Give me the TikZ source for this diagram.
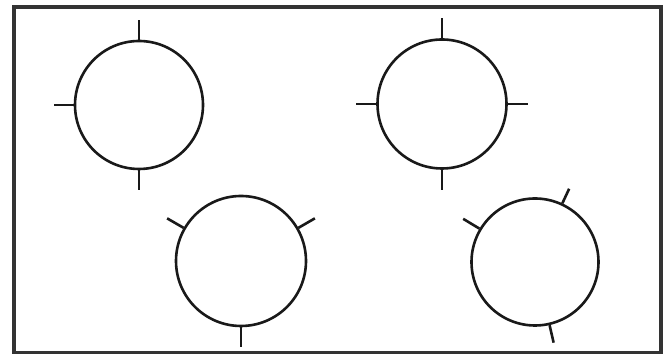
\documentclass[tikz,border=0pt]{standalone}
\begin{document}
\begin{tikzpicture}[
    x=1pt, y=1pt,
    cerchio/.style={circle, draw=black!90, line width=2.6pt, inner sep=0pt, minimum size=#1},
    tacca/.style={draw=black!90, line width=2.6pt},
    cornice/.style={draw=black!80, line width=3.2pt}
]
    \useasboundingbox (0,0) rectangle (670,355);

    % Cornice
    \draw[cornice] (14,2.5) rectangle (661,348);

    % Cerchi
    \node[cerchio=128pt] (C1) at (139,250) {};
    \node[cerchio=129pt] (C2) at (442,251) {};
    \node[cerchio=130pt] (C3) at (241,94) {};
    \node[cerchio=127pt] (C4) at (535,93) {};

    % Tacche cerchio 1
    \draw[tacca] (C1.90) -- ++(90:20pt);
    \draw[tacca] (C1.180) -- ++(180:20pt);
    \draw[tacca] (C1.270) -- ++(270:20pt);

    % Tacche cerchio 2
    \draw[tacca] (C2.0) -- ++(0:20pt);
    \draw[tacca] (C2.90) -- ++(90:20pt);
    \draw[tacca] (C2.180) -- ++(180:20pt);
    \draw[tacca] (C2.270) -- ++(270:20pt);

    % Tacche cerchio 3
    \draw[tacca] (C3.30) -- ++(30:19pt);
    \draw[tacca] (C3.150) -- ++(150:19pt);
    \draw[tacca] (C3.270) -- ++(270:20pt);

    % Tacche cerchio 4
    \draw[tacca] (C4.65) -- ++(65:16pt);
    \draw[tacca] (C4.149) -- ++(149:19pt);
    \draw[tacca] (C4.283) -- ++(283:18pt);

\end{tikzpicture}
\end{document}
